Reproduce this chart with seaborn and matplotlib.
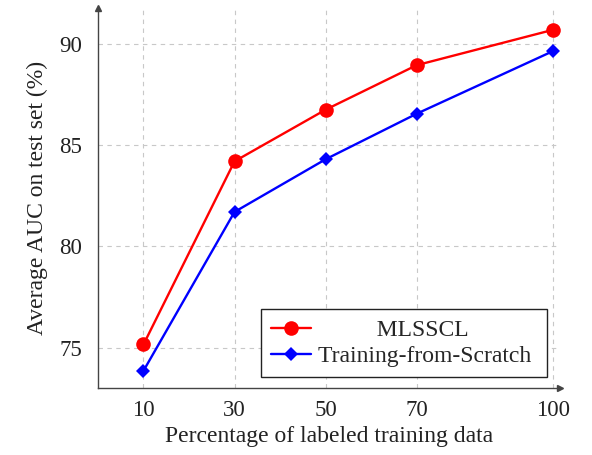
import matplotlib
matplotlib.use("Agg")
import matplotlib.pyplot as plt
import seaborn as sns
import pandas as pd

percent = [10, 30, 50, 70, 100]
mlsscl = [75.15, 84.2, 86.75, 88.95, 90.7]
scratch = [73.85, 81.7, 84.3, 86.55, 89.65]
series_names = ["MLSSCL", "Training-from-Scratch"]
xticks = [10, 30, 50, 70, 100]
yticks = [75, 80, 85, 90]

sns.set_style("white")
plt.rcParams['font.family'] = ['Liberation Serif', 'DejaVu Serif']

FS = 17
fig = plt.figure(figsize=(5.92, 4.55), dpi=100)
ax = fig.add_axes([0.1655, 0.1473, 0.946 - 0.1655, 0.9835 - 0.1473])

df1 = pd.DataFrame({"x": percent, "y": mlsscl})
df2 = pd.DataFrame({"x": percent, "y": scratch})

sns.lineplot(data=df1, x="x", y="y", ax=ax, color="#ff0000", marker="o",
             markersize=10.5, linewidth=1.7, markeredgewidth=0,
             label="          " + series_names[0], zorder=4)
sns.lineplot(data=df2, x="x", y="y", ax=ax, color="#0000ff", marker="D",
             markersize=7.5, linewidth=1.7, markeredgewidth=0,
             label=series_names[1] + " ", zorder=3)

ax.set_xlim(0, 101.5)
ax.set_ylim(73.0, 91.8)
ax.set_xticks(xticks)
ax.set_yticks(yticks)
ax.tick_params(axis='both', direction='inout', length=7, width=0.8,
               colors='#444444', labelcolor='#222222', labelsize=FS - 0.5)
ax.tick_params(axis='x', pad=5)
ax.tick_params(axis='y', pad=8)
ax.grid(True, linestyle=(0, (4, 4)), color='#c8c8c8', linewidth=0.8)

for s in ['top', 'right']:
    ax.spines[s].set_visible(False)
for s in ['left', 'bottom']:
    ax.spines[s].set_color('#444444')
    ax.spines[s].set_linewidth(1.0)

ax.plot(1, 0, marker=">", color='#444444', markersize=5, transform=ax.transAxes,
        clip_on=False)
ax.plot(0, 1, marker="^", color='#444444', markersize=5, transform=ax.transAxes,
        clip_on=False)

ax.set_xlabel("Percentage of labeled training data", fontsize=FS, labelpad=4,
              color='#222222')
ax.set_ylabel("Average AUC on test set (%)", fontsize=FS, labelpad=8,
              color='#222222')

leg = ax.legend(loc='lower right', bbox_to_anchor=(0.972, 0.029), fontsize=FS,
                frameon=True, fancybox=False, edgecolor='#222222',
                framealpha=1, handlelength=1.7, borderpad=0.42,
                labelspacing=0.2, handletextpad=0.3, borderaxespad=0)
leg.get_frame().set_linewidth(1.0)

fig.savefig("out.png", dpi=100)
